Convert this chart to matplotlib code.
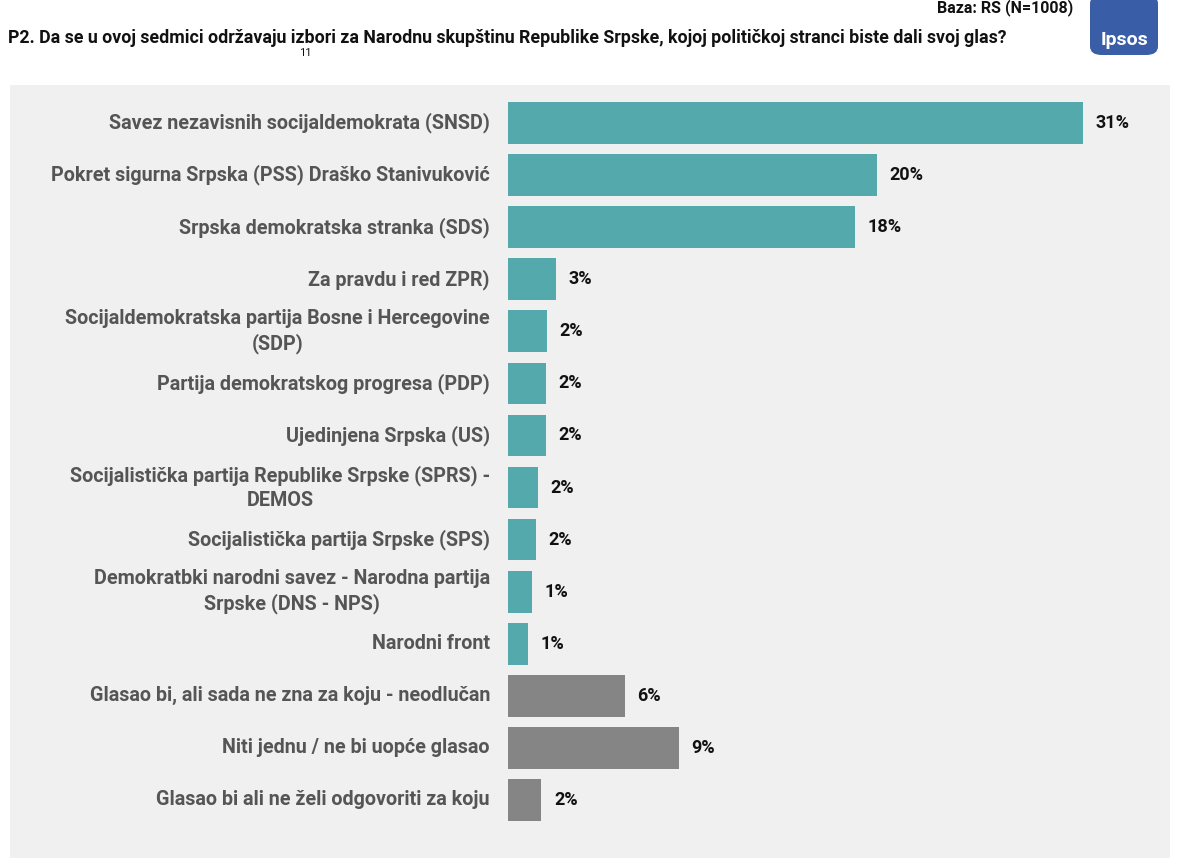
import matplotlib.pyplot as plt
from matplotlib.patches import Rectangle, FancyBboxPatch

# Data
parties = [
    'Savez nezavisnih socijaldemokrata (SNSD)',
    'Pokret sigurna Srpska (PSS) Draško Stanivuković',
    'Srpska demokratska stranka (SDS)',
    'Za pravdu i red ZPR)',
    'Socijaldemokratska partija Bosne i Hercegovine\n(SDP)',
    'Partija demokratskog progresa (PDP)',
    'Ujedinjena Srpska (US)',
    'Socijalistička partija Republike Srpske (SPRS) -\nDEMOS',
    'Socijalistička partija Srpske (SPS)',
    'Demokratbki narodni savez - Narodna partija\nSrpske (DNS - NPS)',
    'Narodni front',
    'Glasao bi, ali sada ne zna za koju - neodlučan',
    'Niti jednu / ne bi uopće glasao',
    'Glasao bi ali ne želi odgovoriti za koju',
]
values = [31.0, 19.9, 18.7, 2.6, 2.1, 2.05, 2.05, 1.6, 1.5, 1.3, 1.1, 6.3, 9.2, 1.8]
value_labels = ['31%', '20%', '18%', '3%', '2%', '2%', '2%', '2%', '2%', '1%', '1%', '6%', '9%', '2%']
is_party = [True] * 11 + [False] * 3

teal = '#53a9ab'
grey = '#858585'
colors = [teal if p else grey for p in is_party]

fig = plt.figure(figsize=(11.79, 8.66), dpi=100)
fig.patch.set_facecolor('white')

# light grey panel behind the chart
fig.add_artist(Rectangle((10 / 1179, 8 / 866), 1160 / 1179, 773 / 866,
                         transform=fig.transFigure, facecolor='#f0f0f0',
                         edgecolor='none', zorder=0))

ax = fig.add_axes([508 / 1179, 40 / 866, 662 / 1179, 729 / 866])
ax.set_facecolor('none')
ypos = list(range(len(parties)))
ax.barh(ypos, values, height=0.8, color=colors, edgecolor='none')
ax.set_xlim(0, 662 / 18.55)
ax.set_ylim(len(parties) - 0.5, -0.5)
ax.axis('off')

for y, v, lab, name in zip(ypos, values, value_labels, parties):
    ax.annotate(lab, (v, y), xytext=(9, 0), textcoords='offset points',
                va='center', ha='left', fontsize=13, fontweight='bold',
                color='#111111', family='Roboto')
    ax.annotate(name, (0, y), xytext=(-13, 0), textcoords='offset points',
                va='center', ha='right', multialignment='center',
                fontsize=14.2, fontweight='bold', color='#555555',
                family='Roboto', linespacing=1.3)

# header
fig.text(8 / 1179, 1 - 38 / 866,
         'P2. Da se u ovoj sedmici održavaju izbori za Narodnu skupštinu Republike Srpske, kojoj političkoj stranci biste dali svoj glas?',
         ha='left', va='center', fontsize=12.8, fontweight='bold',
         family='Roboto', color='#111111')
fig.text(305 / 1179, 1 - 53 / 866, '11', ha='center', va='center',
         fontsize=8, family='Roboto', color='#111111')
fig.text(1073 / 1179, 1 - 8 / 866, 'Baza: RS (N=1008)', ha='right', va='center',
         fontsize=11.5, fontweight='bold', family='Roboto', color='#111111')

# Ipsos logo
fig.add_artist(FancyBboxPatch((1090 / 1179, 1 - 55 / 866), 68 / 1179, 60 / 866,
                              boxstyle='round,pad=0,rounding_size=0.01',
                              transform=fig.transFigure,
                              facecolor='#3a5da8', edgecolor='none'))
fig.text(1124 / 1179, 1 - 40 / 866, 'Ipsos', ha='center', va='center',
         fontsize=14, fontweight='bold', color='white', family='Roboto')

fig.savefig('out.png', dpi=100, facecolor='white')
